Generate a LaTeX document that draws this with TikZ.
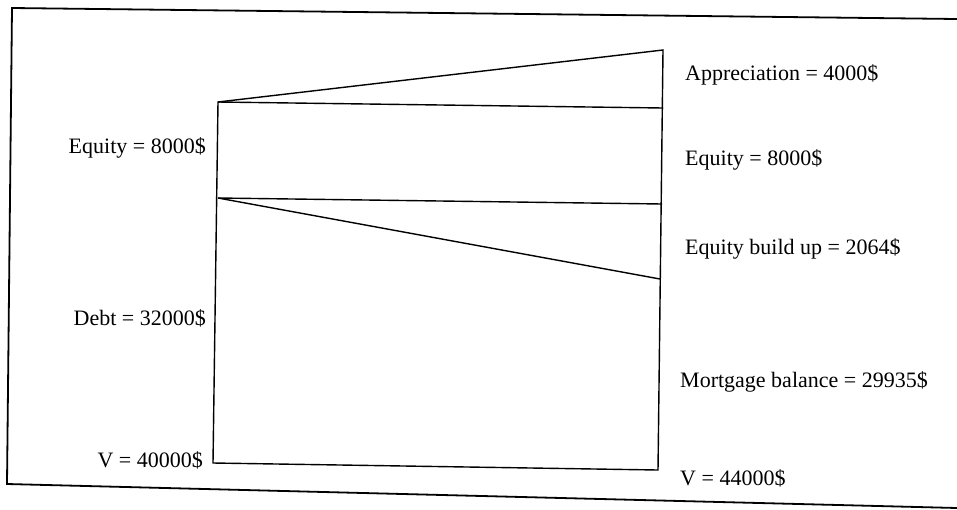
\documentclass[tikz,border=0pt]{standalone}
\usepackage{fontspec}
\setmainfont{Liberation Serif}
\begin{document}
\begin{tikzpicture}[x=1pt,y=-1pt,
  frame/.style={line width=1.8pt},
  part/.style={line width=1.4pt, line join=miter},
  lbl/.style={font=\fontsize{22}{26}\selectfont, inner sep=0pt}]
\useasboundingbox (0,0) rectangle (957,509);
% outer frame (open at right, cut off)
\coordinate (fTR) at (957,19);
\coordinate (fTL) at (12,8);
\coordinate (fBL) at (7,484);
\coordinate (fBR) at (957,508);
\draw[frame] (fTR) -- (fTL) -- (fBL) -- (fBR);
% inner shape
\coordinate (a) at (218,102);
\coordinate (b) at (218,198);
\coordinate (c) at (213,463);
\coordinate (rt) at (663,50);
\coordinate (r1) at (663,108);
\coordinate (r2) at (662,204);
\coordinate (r3) at (660,279);
\coordinate (rb) at (658,470);
\draw[part] (a) -- (rt) -- (rb) -- (c) -- cycle;
\draw[part] (a) -- (r1);
\draw[part] (b) -- (r2);
\draw[part] (b) -- (r3);
% labels
\node[lbl, anchor=west] (appr) at (685,75) {Appreciation = 4000\$};
\node[lbl, anchor=west] (eqr) at (685,160) {Equity = 8000\$};
\node[lbl, anchor=west] (ebu) at (685,249) {Equity build up = 2064\$};
\node[lbl, anchor=west] (mort) at (680,382) {Mortgage balance = 29935\$};
\node[lbl, anchor=west] (vr) at (680,478) {V = 44000\$};
\node[lbl, anchor=east] (eql) at (206,148) {Equity = 8000\$};
\node[lbl, anchor=east] (debt) at (206,318) {Debt = 32000\$};
\node[lbl, anchor=east] (vl) at (203,460) {V = 40000\$};
\end{tikzpicture}
\end{document}
